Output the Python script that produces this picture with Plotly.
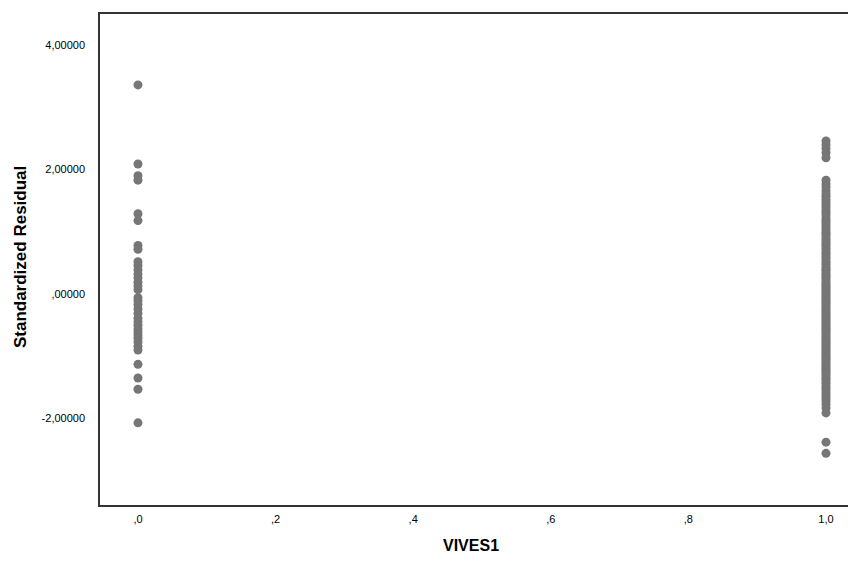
import plotly.graph_objects as go

# Group values (VIVES1)
x_group0 = 0.0
x_group1 = 1.0

# Standardized residuals
resid_group0 = [3.36, 2.09, 1.90, 1.83, 1.29, 1.18, 0.78, 0.72, 0.52, 0.46, 0.39,
                0.32, 0.26, 0.19, 0.13, 0.07, -0.06, -0.11, -0.17, -0.24, -0.31,
                -0.39, -0.45, -0.50, -0.56, -0.61, -0.66, -0.71, -0.77, -0.84,
                -0.90, -1.13, -1.35, -1.53, -2.07]

resid_group1 = [2.46, 2.40, 2.34, 2.27, 2.19, 1.83, 1.77, 1.72, 1.66, 1.61, 1.57,
                1.52, 1.48, 1.44, 1.40, 1.35, 1.31, 1.27, 1.22, 1.18, 1.15, 1.11,
                1.07, 1.03, 0.99, 0.96, 0.92, 0.88, 0.85, 0.81, 0.78, 0.74, 0.71,
                0.67, 0.64, 0.60, 0.57, 0.53, 0.50, 0.47, 0.43, 0.40, 0.37, 0.33,
                0.30, 0.27, 0.24, 0.20, 0.17, 0.14, 0.11, 0.08, 0.05, 0.02, -0.01,
                -0.04, -0.07, -0.10, -0.13, -0.16, -0.19, -0.22, -0.25, -0.28,
                -0.31, -0.34, -0.37, -0.40, -0.43, -0.46, -0.49, -0.52, -0.55,
                -0.58, -0.61, -0.64, -0.67, -0.70, -0.73, -0.76, -0.79, -0.82,
                -0.85, -0.88, -0.91, -0.94, -0.97, -1.00, -1.03, -1.06, -1.09,
                -1.12, -1.15, -1.18, -1.21, -1.24, -1.27, -1.30, -1.34, -1.37,
                -1.41, -1.44, -1.48, -1.52, -1.56, -1.60, -1.64, -1.68, -1.72,
                -1.77, -1.83, -1.91, -2.38, -2.56]

x_tickvals = [0, 0.2, 0.4, 0.6, 0.8, 1.0]
x_ticktext = [",0", ",2", ",4", ",6", ",8", "1,0"]
y_tickvals = [-2, 0, 2, 4]
y_ticktext = ["-2,00000", ",00000", "2,00000", "4,00000"]

x_title = "VIVES1"
y_title = "Standardized Residual"

marker_color = "#767676"
font_family = "Liberation Sans, Arial, sans-serif"

fig = go.Figure()
fig.add_trace(go.Scatter(
    x=[x_group0] * len(resid_group0) + [x_group1] * len(resid_group1),
    y=resid_group0 + resid_group1,
    mode="markers",
    marker=dict(size=9, color=marker_color, line=dict(width=0)),
    showlegend=False,
    hoverinfo="x+y",
))

fig.update_layout(
    width=848, height=557,
    margin=dict(l=92, r=0, t=6, b=60),
    paper_bgcolor="white", plot_bgcolor="white",
    font=dict(family=font_family, color="black"),
    xaxis=dict(
        range=[-0.0552, 1.0436],
        tickvals=x_tickvals, ticktext=x_ticktext,
        showgrid=False, zeroline=False, automargin=False,
        showline=True, linecolor="#333333", linewidth=1.5, mirror=True,
        ticks="outside", ticklen=3, tickcolor="rgba(0,0,0,0)",
        tickfont=dict(size=11, color="black"),
    ),
    yaxis=dict(
        range=[-3.39, 4.50],
        tickvals=y_tickvals, ticktext=y_ticktext,
        showgrid=False, zeroline=False, automargin=False,
        showline=True, linecolor="#333333", linewidth=1.5, mirror=False,
        ticks="outside", ticklen=11, tickcolor="rgba(0,0,0,0)",
        tickfont=dict(size=11, color="black"),
    ),
    annotations=[
        dict(text="<b>" + y_title + "</b>", xref="paper", yref="paper",
             x=-0.1058, y=0.505, xanchor="center", yanchor="middle",
             textangle=-90, showarrow=False,
             font=dict(size=17, color="black", family=font_family)),
        dict(text="<b>" + x_title + "</b>", xref="paper", yref="paper",
             x=0.4907, y=-0.0815, xanchor="center", yanchor="middle",
             showarrow=False,
             font=dict(size=16, color="black", family=font_family)),
    ],
)

fig.write_html("out.html")
